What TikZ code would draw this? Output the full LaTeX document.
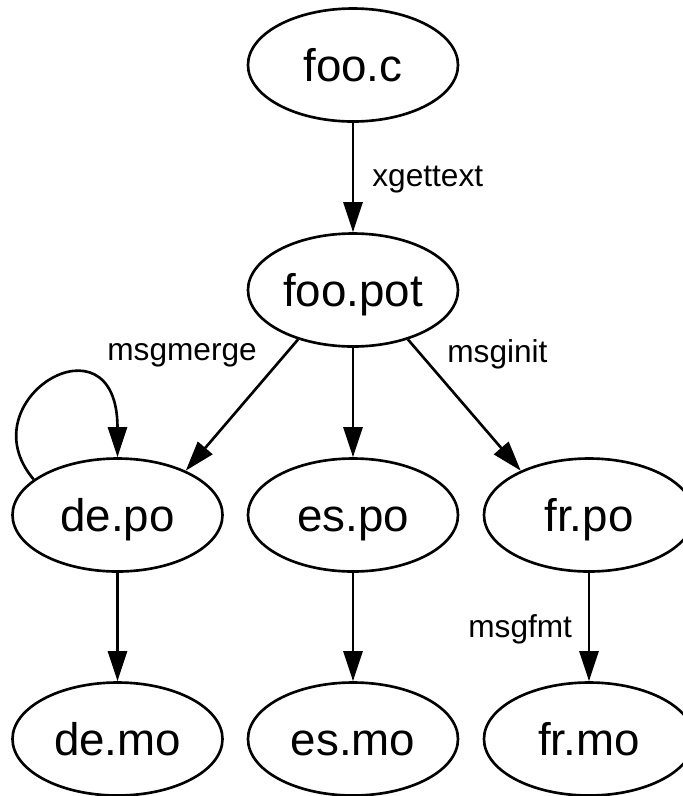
\documentclass[tikz,border=0pt]{standalone}
\usepackage{fontspec}
\setmainfont{Liberation Sans}
\usetikzlibrary{shapes.geometric, arrows.meta}

\begin{document}
\begin{tikzpicture}[
		file/.style={draw, ellipse, line width=1.5pt, minimum width=4.2cm, minimum height=2.26cm, inner sep=0pt, font=\fontsize{26}{30}\selectfont, text height=19.3pt, text depth=0pt},
		flow/.style={line width=1.5pt, -{Triangle[length=0.6cm, width=0.38cm]}},
		tool/.style={anchor=base west, inner sep=0pt, font=\fontsize{18}{21}\selectfont}
	]
		\useasboundingbox (0,0) rectangle (13.66,-15.92);

		\node[file] (fooc) at (7.06,-1.3) {foo.c};
		\node[file] (foopot) at (7.06,-5.8) {foo.pot};

		\node[file] (depo) at (2.35,-10.3) {de.po};
		\node[file] (espo) at (7.06,-10.3) {es.po};
		\node[file] (frpo) at (11.78,-10.3) {fr.po};

		\node[file] (demo) at (2.35,-14.78) {de.mo};
		\node[file] (esmo) at (7.06,-14.78) {es.mo};
		\node[file] (frmo) at (11.78,-14.78) {fr.mo};

		\draw[flow] (fooc) -- (foopot);
		\node[tool] (xget) at (7.44,-3.73) {xgettext};

		\draw[flow] (foopot.222) -- (depo.33);
		\draw[flow] (foopot) -- (espo);
		\draw[flow] (foopot.318) -- (frpo.147);
		\node[tool] (merge) at (2.14,-7.2) {msgmerge};
		\node[tool] (init) at (8.94,-7.24) {msginit};

		\draw[flow] (depo.157) .. controls +(-1.36,1.6) and +(0,2.96) .. (depo.north);

		\draw[flow] (depo) -- (demo);
		\draw[flow] (espo) -- (esmo);
		\draw[flow] (frpo) -- (frmo);
		\node[tool] (fmt) at (9.36,-12.74) {msgfmt};
	\end{tikzpicture}
\end{document}
